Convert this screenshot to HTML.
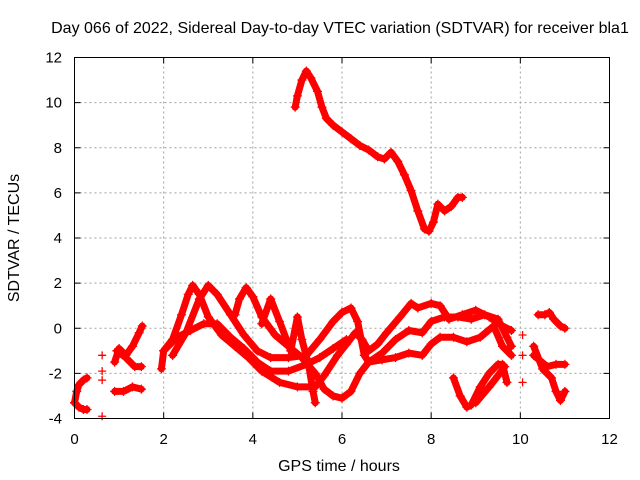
<!DOCTYPE html>
<html><head><meta charset="utf-8">
<style>
html,body{margin:0;padding:0;background:#fff;}
svg{display:block;font-family:"Liberation Sans",Arial,sans-serif;}
</style></head>
<body>
<svg id="chart" width="640" height="480" viewBox="0 0 640 480" xmlns="http://www.w3.org/2000/svg">
<rect width="640" height="480" fill="#fff"/>
<text x="340" y="33" font-size="16" text-anchor="middle" fill="#000">Day 066 of 2022, Sidereal Day-to-day VTEC variation (SDTVAR) for receiver bla1</text>
<g id="grid"></g>
<g id="series"></g>
<rect x="74.5" y="57.5" width="535" height="361" fill="none" stroke="#000" stroke-width="1"/>
<g id="ticks"></g>
<text x="339" y="471" font-size="16" text-anchor="middle">GPS time / hours</text>
<text transform="translate(19,238) rotate(-90)" font-size="16" text-anchor="middle">SDTVAR / TECUs</text>
</svg>
<script>
const xTicks = [0,2,4,6,8,10,12];
const yTicks = [-4,-2,0,2,4,6,8,10,12];
const trackTop = [[4.95,9.8],[5.0,10.3],[5.1,11.0],[5.2,11.4],[5.3,11.1],[5.45,10.5],[5.55,9.8],[5.65,9.3],[5.8,9.0],[6.0,8.7],[6.2,8.4],[6.4,8.1],[6.6,7.9],[6.8,7.6],[6.95,7.5],[7.1,7.8],[7.25,7.4],[7.4,6.8],[7.55,6.1],[7.7,5.2],[7.85,4.4],[7.95,4.3],[8.05,4.7],[8.15,5.5],[8.3,5.2],[8.45,5.4],[8.6,5.8],[8.7,5.8]];
const trackEarly1 = [[0.0,-3.3],[0.05,-2.8],[0.1,-2.5],[0.2,-2.3],[0.28,-2.2]];
const trackEarly2 = [[0.0,-3.3],[0.1,-3.5],[0.2,-3.6],[0.28,-3.6]];
const trackEarly3 = [[0.9,-1.5],[1.0,-0.9],[1.15,-1.2],[1.3,-0.8],[1.45,-0.2],[1.52,0.1]];
const trackEarly4 = [[0.9,-2.8],[1.1,-2.8],[1.3,-2.6],[1.5,-2.7]];
const trackEarly5 = [[0.95,-1.0],[1.15,-1.3],[1.35,-1.7],[1.5,-1.7]];
const trackIsolated = [[0.62,-1.2],[0.62,-1.9],[0.62,-2.3],[0.62,-3.9],[10.05,-0.3],[10.05,-1.2],[10.05,-2.4]];
const trackA = [[1.95,-1.8],[2.0,-1.0],[2.2,-0.5],[2.4,0.6],[2.55,1.5],[2.65,1.9],[2.8,1.5],[3.0,0.5],[3.3,-0.3],[3.6,-0.8],[3.9,-1.3],[4.2,-1.9],[4.6,-2.4],[5.0,-2.6],[5.4,-2.6],[5.6,-2.1],[5.9,-1.2],[6.1,-0.7],[6.3,-0.2],[6.45,-0.5],[6.6,-1.0],[6.8,-0.7],[7.0,-0.2],[7.3,0.5],[7.55,1.1],[7.7,0.9],[8.0,1.1],[8.2,1.0],[8.4,0.4],[8.7,0.6],[9.0,0.8],[9.3,0.5],[9.6,0.1],[9.8,-0.1]];
const trackB = [[2.2,-1.2],[2.5,-0.2],[2.8,1.3],[3.0,1.9],[3.2,1.5],[3.5,0.6],[3.8,-0.3],[4.1,-1.0],[4.4,-1.3],[4.8,-1.3],[5.2,-1.2],[5.5,-0.5],[5.8,0.3],[6.0,0.7],[6.2,0.9],[6.35,0.3],[6.5,-1.2],[6.6,-1.5],[6.9,-1.1],[7.2,-0.5],[7.5,-0.1],[7.8,-0.2],[8.0,0.3],[8.3,0.5],[8.6,0.5],[8.9,0.4],[9.2,0.6],[9.5,0.4],[9.7,-0.4],[9.8,-0.8]];
const trackC = [[2.0,-1.0],[2.3,-0.4],[2.6,-0.1],[2.9,0.2],[3.2,0.2],[3.5,-0.4],[3.8,-0.9],[4.1,-1.5],[4.4,-1.9],[4.8,-1.9],[5.2,-1.6],[5.5,-1.3],[5.8,-0.9],[6.1,-0.5]];
const trackD = [[3.6,0.6],[3.7,1.3],[3.85,1.8],[4.0,1.4],[4.2,0.5],[4.5,-0.3],[4.8,-0.8],[5.1,-1.3],[5.4,-2.0],[5.6,-2.7],[5.8,-3.0],[6.0,-3.1],[6.2,-2.8],[6.4,-2.0],[6.6,-1.5],[6.9,-1.4],[7.2,-1.3],[7.5,-1.1],[7.8,-1.2],[8.0,-0.7],[8.2,-0.4],[8.5,-0.4],[8.8,-0.6],[9.1,-0.4],[9.4,0.1],[9.6,-0.8],[9.8,-1.2]];
const trackE = [[4.2,0.2],[4.4,1.3],[4.6,0.3],[4.85,-1.0],[5.0,0.5],[5.1,-0.5],[5.25,-1.6],[5.35,-2.8],[5.4,-3.3]];
const trackF1 = [[8.5,-2.2],[8.65,-3.0],[8.8,-3.5],[8.9,-3.4],[9.1,-2.6],[9.3,-2.0],[9.5,-1.6],[9.6,-1.6],[9.7,-2.4]];
const trackF2 = [[9.0,-3.3],[9.3,-2.6],[9.5,-2.1],[9.65,-1.7]];
const trackG = [[10.4,0.6],[10.55,0.6],[10.65,0.7],[10.75,0.4],[10.9,0.1],[11.0,0.0]];
const trackH1 = [[10.3,-0.8],[10.5,-1.8],[10.7,-2.2],[10.8,-2.8],[10.9,-3.2],[11.0,-2.8]];
const trackH2 = [[10.3,-1.2],[10.6,-1.7],[10.8,-1.6],[11.0,-1.6]];
const tracks = [trackTop,trackEarly1,trackEarly2,trackEarly3,trackEarly4,trackEarly5,trackA,trackB,trackC,trackD,trackE,trackF1,trackF2,trackG,trackH1,trackH2];

const NS="http://www.w3.org/2000/svg";
const X0=74.5,X1=609.5,Y0=418.5,Y1=57.5;
function sx(h){return X0+(h-0)/(12-0)*(X1-X0);}
function sy(v){return Y0-(v+4)/(16)*(Y0-Y1);}
function mk(tag,attrs,parent){const e=document.createElementNS(NS,tag);for(const k in attrs)e.setAttribute(k,attrs[k]);parent.appendChild(e);return e;}
const grid=document.getElementById('grid'),ticks=document.getElementById('ticks'),ser=document.getElementById('series');
xTicks.forEach(t=>{
  const x=sx(t);
  if(t>0&&t<12){const l=mk('line',{x1:x,x2:x,y1:Y0,y2:Y1,stroke:'#a0a0a0','stroke-dasharray':'2,3'},grid);
  
  }
  const tk=mk('path',{d:`M${x},${Y0}v-6M${x},${Y1}v6`,stroke:'#000'},ticks);
  
  
  const tx=mk('text',{x:x,y:444,'font-size':15,'text-anchor':'middle'},ticks);tx.textContent=t;
  
  
});
yTicks.forEach(t=>{
  const y=sy(t);
  if(t>-4&&t<12){const l=mk('line',{x1:X0,x2:X1,y1:y,y2:y,stroke:'#a0a0a0','stroke-dasharray':'2,3'},grid);
  
  }
  const tk=mk('path',{d:`M${X0},${y}h6M${X1},${y}h-6`,stroke:'#000'},ticks);
  
  
  const tx=mk('text',{x:62,y:y+5,'font-size':15,'text-anchor':'end'},ticks);tx.textContent=t;
  
  
});
tracks.forEach((tr,i)=>{
  if(tr.length>1){
    const pl=mk('polyline',{points:tr.map(p=>sx(p[0])+','+sy(p[1])).join(' '),fill:'none',stroke:'#f00','stroke-width':7,'stroke-linejoin':'round','stroke-linecap':'round'},ser);
    
    
  }
  tr.forEach(p=>{
    const x=sx(p[0]),y=sy(p[1]);
    const m=mk('path',{d:`M${x-4.5},${y}h9M${x},${y-4.5}v9`,stroke:'#f00','stroke-width':1.3},ser);
    
    
  });
});
trackIsolated.forEach(p=>{
  const x=sx(p[0]),y=sy(p[1]);
  const m=mk('path',{d:`M${x-4},${y}h8M${x},${y-4}v8`,stroke:'#f00','stroke-width':1.3},ser);
  
  
});
</script>
</body></html>
